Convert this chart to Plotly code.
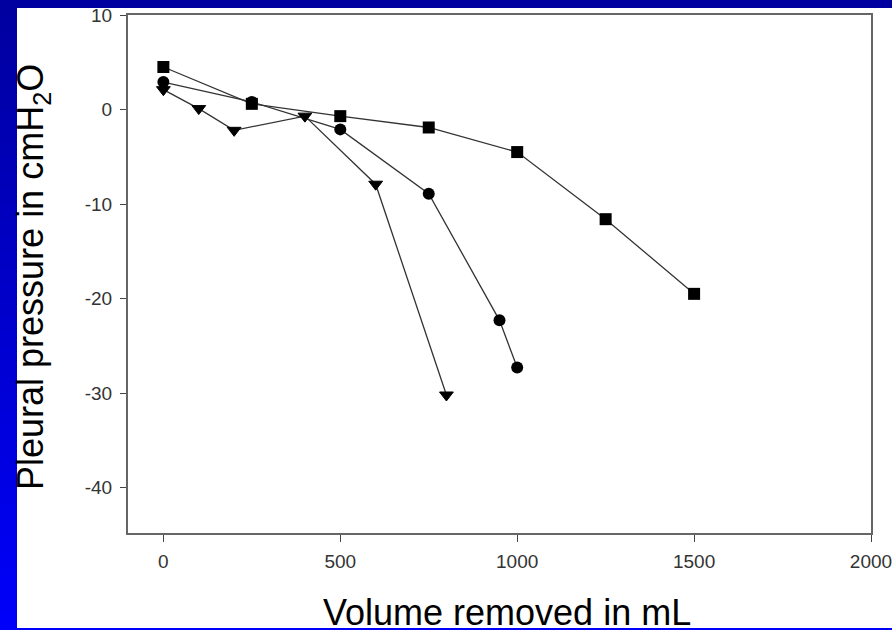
import plotly.graph_objects as go

# Data
sq_x = [0, 250, 500, 750, 1000, 1250, 1500]
sq_y = [4.5, 0.6, -0.7, -1.9, -4.5, -11.6, -19.5]

ci_x = [0, 250, 500, 750, 950, 1000]
ci_y = [2.9, 0.8, -2.1, -8.9, -22.3, -27.3]

tr_x = [0, 100, 200, 400, 600, 800]
tr_y = [2.1, 0.1, -2.2, -0.7, -7.9, -30.2]

x_ticks = [0, 500, 1000, 1500, 2000]
y_ticks = [10, 0, -10, -20, -30, -40]

W, H = 892, 630
L, R, T, B = 128, 21, 15, 97
PW, PH = W - L - R, H - T - B


def px(x):
    return (x - L) / PW


def py(y):
    return (H - B - y) / PH


fig = go.Figure()

line_style = dict(color="#333333", width=1.3)
for xs, ys, sym in [(sq_x, sq_y, "square"), (ci_x, ci_y, "circle"), (tr_x, tr_y, "triangle-down")]:
    fig.add_trace(go.Scatter(
        x=xs, y=ys, mode="lines+markers",
        line=line_style,
        marker=dict(symbol=sym, size=12, color="black",
                    line=dict(color="black", width=1 if sym == "triangle-down" else 0)),
        showlegend=False, cliponaxis=False, hoverinfo="skip",
    ))

shapes = []
# blue gradient background
n = 40
for i in range(n):
    y0 = H * i / n
    y1 = H * (i + 1) / n + 1
    t = i / (n - 1)
    b = int(160 + (250 - 160) * t)
    shapes.append(dict(type="rect", xref="paper", yref="paper",
                       x0=px(0), x1=px(W), y0=py(y1), y1=py(y0),
                       fillcolor=f"rgb(0,0,{b})", line=dict(width=0), layer="below"))
# white slide area
shapes.append(dict(type="rect", xref="paper", yref="paper",
                   x0=px(17), x1=px(W + 2), y0=py(628), y1=py(8),
                   fillcolor="white", line=dict(width=0), layer="below"))

font_fam = "Liberation Sans, Arial, sans-serif"

fig.update_layout(
    width=W, height=H,
    margin=dict(l=L, r=R, t=T, b=B, autoexpand=False),
    paper_bgcolor="rgb(0,0,200)",
    plot_bgcolor="white",
    shapes=shapes,
    font=dict(family=font_fam),
    xaxis=dict(
        range=[-100, 2000], tickvals=x_ticks, ticktext=[str(v) for v in x_ticks],
        ticks="outside", ticklen=7, tickwidth=1, tickcolor="#444",
        showline=True, linecolor="#666", linewidth=2, mirror=True,
        showgrid=False, zeroline=False, automargin=False,
        tickfont=dict(size=19, color="#333", family=font_fam),
        ticklabelstandoff=3, ticklabeloverflow="allow",
    ),
    yaxis=dict(
        range=[-44.8, 10], tickvals=y_ticks, ticktext=[str(v) for v in y_ticks],
        ticks="outside", ticklen=6, tickwidth=1, tickcolor="#444",
        showline=True, linecolor="#666", linewidth=2, mirror=True,
        showgrid=False, zeroline=False, automargin=False,
        tickfont=dict(size=19, color="#333", family=font_fam),
        ticklabelstandoff=4, ticklabeloverflow="allow",
    ),
    annotations=[
        dict(text="Volume removed in mL", xref="paper", yref="paper",
             x=px(507), y=py(612), xanchor="center", yanchor="middle",
             showarrow=False, font=dict(size=36, color="black", family=font_fam)),
        dict(text="Pleural pressure in cmH<sub>2</sub>O", xref="paper", yref="paper",
             x=px(33), y=py(277), xanchor="center", yanchor="middle", textangle=-90,
             showarrow=False, font=dict(size=36, color="black", family=font_fam)),
    ],
)

fig.write_html("out.html", config={"displayModeBar": False},
               post_script="document.body.style.margin='0';")
